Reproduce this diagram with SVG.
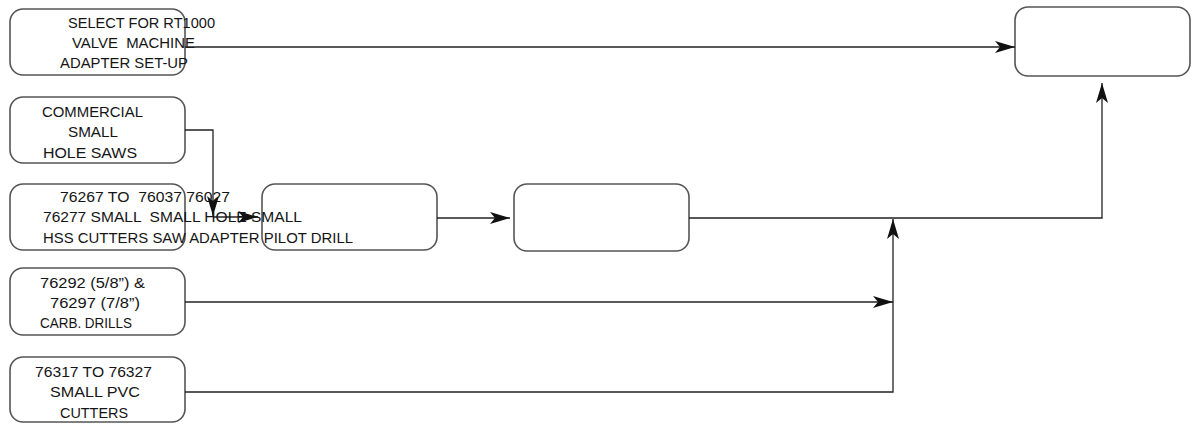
<svg xmlns="http://www.w3.org/2000/svg" width="1196" height="428" viewBox="0 0 1196 428">
<style>
.box{fill:#fff;stroke:#555;stroke-width:1.6}
.t{font-family:"Liberation Sans",Arial,sans-serif;font-size:15.5px;fill:#151515;white-space:pre}
.c{fill:none;stroke:#222;stroke-width:1.3}
</style>
<defs>
<marker id="ah" markerUnits="userSpaceOnUse" markerWidth="22" markerHeight="12" refX="20" refY="6" orient="auto">
<path d="M0,0 L20,6 L0,12 L5,6 Z" fill="#111"/>
</marker>
</defs>
<rect width="1196" height="428" fill="#fff"/>
<g id="n1"><rect class="box" x="10" y="9" width="175" height="66" rx="13"/>
<text class="t" x="68" y="28" textLength="147" lengthAdjust="spacingAndGlyphs">SELECT FOR RT1000</text>
<text class="t" x="72" y="48" textLength="123" lengthAdjust="spacingAndGlyphs">VALVE  MACHINE</text>
<text class="t" x="60" y="68" textLength="128" lengthAdjust="spacingAndGlyphs">ADAPTER SET-UP</text></g>
<g id="n2"><rect class="box" x="10" y="97" width="175" height="66" rx="13"/>
<text class="t" x="42" y="117" textLength="101" lengthAdjust="spacingAndGlyphs">COMMERCIAL</text>
<text class="t" x="68" y="137" textLength="50" lengthAdjust="spacingAndGlyphs">SMALL</text>
<text class="t" x="43" y="158" textLength="94" lengthAdjust="spacingAndGlyphs">HOLE SAWS</text></g>
<g id="n3"><rect class="box" x="10" y="184" width="175" height="66" rx="13"/></g>
<g id="n4"><rect class="box" x="262" y="184" width="175" height="66" rx="13"/></g>
<g id="n5"><rect class="box" x="514" y="184" width="175" height="67" rx="13"/></g>
<g id="n6"><rect class="box" x="1015" y="7" width="175" height="69" rx="13"/></g>
<g id="n7"><rect class="box" x="10" y="268" width="175" height="67" rx="13"/>
<text class="t" x="40" y="288" textLength="105" lengthAdjust="spacingAndGlyphs">76292 (5/8”) &amp;</text>
<text class="t" x="50" y="308" textLength="90" lengthAdjust="spacingAndGlyphs">76297 (7/8”)</text>
<text class="t" x="40" y="328" textLength="92" lengthAdjust="spacingAndGlyphs">CARB. DRILLS</text></g>
<g id="n8"><rect class="box" x="10" y="357" width="175" height="65" rx="13"/>
<text class="t" x="35" y="377" textLength="117" lengthAdjust="spacingAndGlyphs">76317 TO 76327</text>
<text class="t" x="50" y="397" textLength="90" lengthAdjust="spacingAndGlyphs">SMALL PVC</text>
<text class="t" x="60" y="418" textLength="68" lengthAdjust="spacingAndGlyphs">CUTTERS</text></g>
<g id="connectors">
<path class="c" d="M185,47 H1015" marker-end="url(#ah)"/>
<path class="c" d="M185,130 H213 V216" marker-end="url(#ah)"/>
<path class="c" d="M213,217 H258" marker-end="url(#ah)"/>
<path class="c" d="M437,218 H510" marker-end="url(#ah)"/>
<path class="c" d="M689,218 H1102 V83" marker-end="url(#ah)"/>
<path class="c" d="M185,302 H893" marker-end="url(#ah)"/>
<path class="c" d="M185,392 H893 V219" marker-end="url(#ah)"/>
</g>
<g id="row-text">
<text class="t" x="60" y="202" textLength="170" lengthAdjust="spacingAndGlyphs">76267 TO  76037 76027</text>
<text class="t" x="43" y="222" textLength="259" lengthAdjust="spacingAndGlyphs">76277 SMALL  SMALL HOLE SMALL</text>
<text class="t" x="43" y="243" textLength="310" lengthAdjust="spacingAndGlyphs">HSS CUTTERS SAW ADAPTER PILOT DRILL</text>
</g>
</svg>
